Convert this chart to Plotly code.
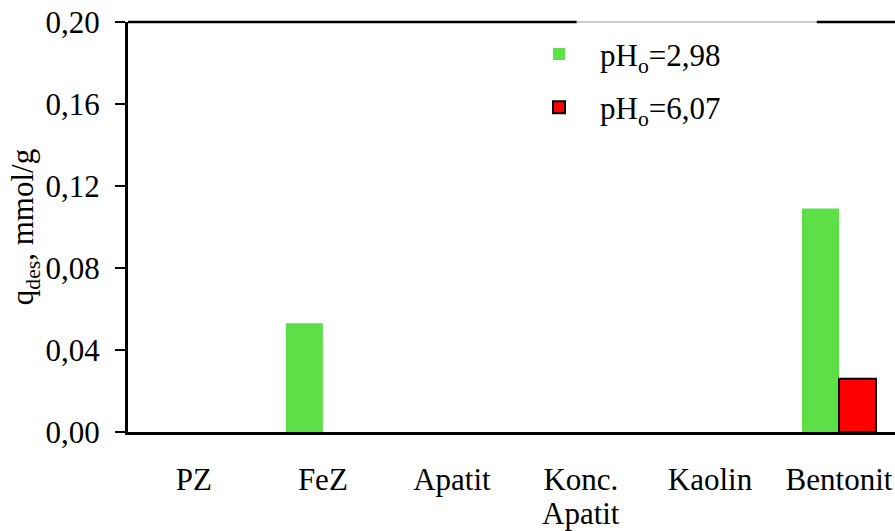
import plotly.graph_objects as go

categories = ["PZ", "FeZ", "Apatit", "Konc.<br>Apatit", "Kaolin", "Bentonit"]
series_names = ["pH<sub>o</sub>=2,98", "pH<sub>o</sub>=6,07"]
q_ph298 = [0, 0.053, 0, 0, 0, 0.109]
q_ph607 = [None, None, None, None, None, 0.026]
y_ticks = [0.00, 0.04, 0.08, 0.12, 0.16, 0.20]

FONT = "Liberation Serif"
FS = 31

# first line of each category as tick label, second line (if any) as an annotation
first_lines = [c.split("<br>")[0] for c in categories]
second_lines = [(i, c.split("<br>")[1]) for i, c in enumerate(categories) if "<br>" in c]

fig = go.Figure()
fig.add_trace(go.Bar(
    x=list(range(len(categories))), y=q_ph298, name=series_names[0],
    marker=dict(color="#5ddf48", line=dict(width=0)),
    legendgroup="a",
))
fig.add_trace(go.Bar(
    x=list(range(len(categories))), y=q_ph607, name=series_names[1],
    marker=dict(color="#ff0000", line=dict(color="black", width=2)),
    legendgroup="b",
))

fig.update_layout(
    width=895, height=531,
    margin=dict(l=128, r=0, t=22, b=99),
    paper_bgcolor="white", plot_bgcolor="white",
    barmode="group", bargap=0.426, bargroupgap=0,
    separators=",.",
    font=dict(family=FONT, size=FS, color="black"),
    showlegend=True,
    legend=dict(
        x=0.5085, y=0.987, xanchor="left", yanchor="top",
        bgcolor="rgba(0,0,0,0)", borderwidth=0,
        font=dict(family=FONT, size=FS, color="black"),
        traceorder="grouped", tracegroupgap=10, itemwidth=72,
    ),
    xaxis=dict(
        range=[-0.51, 5.434], automargin=False,
        tickmode="array", tickvals=list(range(len(categories))), ticktext=first_lines,
        showline=True, linecolor="black", linewidth=3,
        ticks="", showgrid=False, zeroline=False,
        ticklabelstandoff=18,
        tickfont=dict(family=FONT, size=FS, color="black"),
    ),
    yaxis=dict(
        range=[0, 0.20], automargin=False,
        tickmode="array", tickvals=y_ticks, tickformat=".2f",
        showline=True, linecolor="black", linewidth=3,
        ticks="outside", ticklen=10, tickwidth=2, tickcolor="black",
        showgrid=False, zeroline=False,
        ticklabelstandoff=9,
        tickfont=dict(family=FONT, size=FS, color="black"),
        title=dict(text="q<sub>des</sub>, mmol/g", font=dict(family=FONT, size=FS, color="black"), standoff=3),
    ),
    shapes=[
        dict(type="line", xref="paper", yref="paper", x0=0, x1=0.585, y0=1, y1=1,
             line=dict(color="black", width=2.5)),
        dict(type="line", xref="paper", yref="paper", x0=0.585, x1=0.898, y0=1, y1=1,
             line=dict(color="#999999", width=1)),
        dict(type="line", xref="paper", yref="paper", x0=0.898, x1=1, y0=1, y1=1,
             line=dict(color="black", width=2.5)),
    ],
)

for i, txt in second_lines:
    fig.add_annotation(
        x=i, xref="x", y=-0.1976, yref="paper", text=txt, showarrow=False,
        xanchor="center", yanchor="middle",
        font=dict(family=FONT, size=FS, color="black"),
    )

fig.write_html(
    "out.html",
    config={"displayModeBar": False},
    post_script="document.body.style.margin='0';document.body.style.overflow='hidden';",
)
